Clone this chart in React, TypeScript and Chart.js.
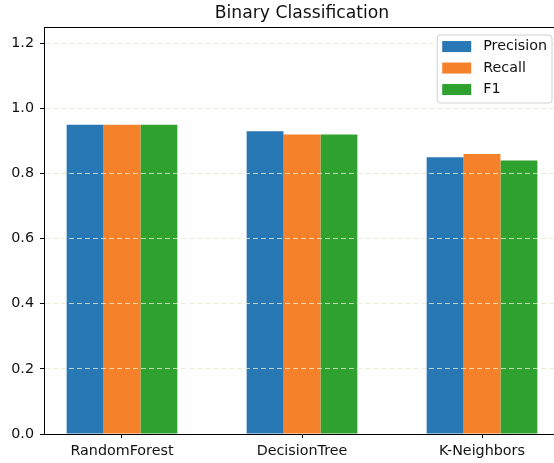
import React, { useEffect, useRef } from 'react';
import { Chart, registerables } from 'chart.js';

Chart.register(...registerables);

const categories = ['RandomForest', 'DecisionTree', 'K-Neighbors'];
const seriesNames = ['Precision', 'Recall', 'F1'];
const precision = [0.95, 0.93, 0.85];
const recall = [0.95, 0.92, 0.86];
const f1 = [0.95, 0.92, 0.84];
const yTicks = [0, 0.2, 0.4, 0.6, 0.8, 1.0, 1.2];
const titleText = 'Binary Classification';

const colors = ['#2878b5', '#f5822a', '#2ea12f'];
const FONT = "'DejaVu Sans', sans-serif";
const TICK_SIZE = 14.3;

const spinePlugin = {
  id: 'topSpine',
  afterDraw(chart: any) {
    const { ctx, chartArea } = chart;
    ctx.save();
    ctx.strokeStyle = '#000';
    ctx.lineWidth = 1;
    ctx.beginPath();
    const y = Math.round(chartArea.top) + 0.5;
    ctx.moveTo(chartArea.left, y);
    ctx.lineTo(chartArea.right, y);
    ctx.stroke();
    ctx.restore();
  },
};

const legendPlugin = {
  id: 'boxLegend',
  afterDraw(chart: any) {
    const { ctx, chartArea } = chart;
    const ds = chart.data.datasets;
    ctx.save();
    ctx.font = `${TICK_SIZE}px ${FONT}`;
    let maxW = 0;
    ds.forEach((d: any) => {
      maxW = Math.max(maxW, ctx.measureText(d.label).width);
    });
    const pad = 5;
    const swW = 29;
    const swH = 11;
    const gap = 12;
    const rowH = 21.5;
    const boxW = pad + swW + gap + maxW + pad;
    const boxH = 68;
    const right = chartArea.right - 8;
    const x0 = right - boxW;
    const y0 = chartArea.top + 8;
    ctx.beginPath();
    const r = 3;
    ctx.moveTo(x0 + r, y0);
    ctx.lineTo(x0 + boxW - r, y0);
    ctx.arcTo(x0 + boxW, y0, x0 + boxW, y0 + r, r);
    ctx.lineTo(x0 + boxW, y0 + boxH - r);
    ctx.arcTo(x0 + boxW, y0 + boxH, x0 + boxW - r, y0 + boxH, r);
    ctx.lineTo(x0 + r, y0 + boxH);
    ctx.arcTo(x0, y0 + boxH, x0, y0 + boxH - r, r);
    ctx.lineTo(x0, y0 + r);
    ctx.arcTo(x0, y0, x0 + r, y0, r);
    ctx.closePath();
    ctx.fillStyle = 'rgba(255,255,255,0.85)';
    ctx.fill();
    ctx.strokeStyle = '#d0d0d0';
    ctx.lineWidth = 1;
    ctx.stroke();
    ds.forEach((d: any, i: number) => {
      const sy = y0 + 6 + i * rowH;
      ctx.fillStyle = d.backgroundColor;
      ctx.fillRect(x0 + pad, sy, swW, swH);
      ctx.fillStyle = '#111';
      ctx.textBaseline = 'middle';
      ctx.textAlign = 'left';
      ctx.fillText(d.label, x0 + pad + swW + gap, sy + swH / 2);
    });
    ctx.restore();
  },
};

export default function App() {
  const ref = useRef<HTMLCanvasElement | null>(null);

  useEffect(() => {
    if (!ref.current) return;
    const seriesValues = [precision, recall, f1];
    const chart = new Chart(ref.current, {
      type: 'bar',
      data: {
        datasets: seriesNames.map((name, s) => ({
          label: name,
          data: categories.map((_, i) => ({ x: i, y: seriesValues[s][i] })),
          backgroundColor: colors[s],
          borderWidth: 0,
          categoryPercentage: 0.615,
          barPercentage: 1.0,
        })),
      },
      options: {
        responsive: false,
        animation: false,
        devicePixelRatio: 1,
        events: [],
        layout: { padding: { left: 0, right: 44, top: 0, bottom: 0 } },
        plugins: {
          legend: { display: false },
          tooltip: { enabled: false },
          title: {
            display: true,
            text: titleText,
            fullSize: false,
            color: '#111',
            font: { family: FONT, size: 17.2, weight: 'normal', lineHeight: 1.2 },
            padding: { top: 3, bottom: 3.4 },
          },
        },
        scales: {
          x: {
            type: 'linear',
            min: -0.4333,
            max: 2.4333,
            offset: false,
            afterBuildTicks: (s: any) => {
              s.ticks = categories.map((_, i) => ({ value: i }));
            },
            afterFit: (s: any) => {
              s.height = 29;
            },
            ticks: {
              callback: (v: any) => categories[v] ?? '',
              autoSkip: false,
              maxRotation: 0,
              padding: 5,
              color: '#111',
              font: { family: FONT, size: TICK_SIZE },
            },
            grid: {
              display: true,
              offset: false,
              drawOnChartArea: false,
              drawTicks: true,
              tickLength: 4,
              tickColor: '#000',
              tickWidth: 1,
            },
            border: { display: true, color: '#000', width: 1, z: 1 },
          },
          y: {
            type: 'linear',
            min: 0,
            max: 1.25,
            afterBuildTicks: (s: any) => {
              s.ticks = yTicks.map((v) => ({ value: v }));
            },
            afterFit: (s: any) => {
              s.width = 44;
            },
            ticks: {
              callback: (v: any) => Number(v).toFixed(1),
              padding: 6,
              color: '#111',
              font: { family: FONT, size: TICK_SIZE },
            },
            grid: {
              display: true,
              drawOnChartArea: true,
              drawTicks: true,
              tickLength: 4,
              tickColor: '#000',
              tickWidth: 1,
              lineWidth: 1,
              z: 1,
              color: (c: any) =>
                c.tick && c.tick.value === 0 ? 'rgba(0,0,0,0)' : 'rgba(232,232,208,0.8)',
            },
            border: { display: true, color: '#000', width: 1, dash: [5, 3], z: 2 },
          },
        },
      },
      plugins: [spinePlugin, legendPlugin],
    } as any);
    return () => chart.destroy();
  }, []);

  return (
    <div
      style={{
        position: 'absolute',
        left: 0,
        top: 0,
        width: 554,
        height: 463,
        overflow: 'hidden',
        background: '#fff',
      }}
    >
      <canvas ref={ref} width={604} height={463} style={{ display: 'block' }} />
    </div>
  );
}
